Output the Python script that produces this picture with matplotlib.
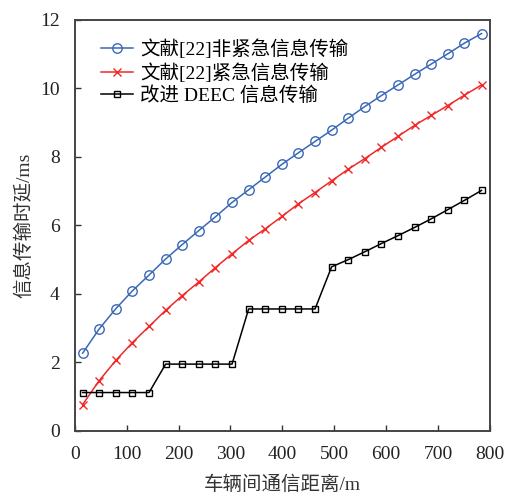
import matplotlib
matplotlib.use("Agg")
import matplotlib.pyplot as plt

plt.rcParams['font.family'] = ['Liberation Serif', 'Noto Sans CJK SC']
plt.rcParams['font.size'] = 14

# distance between vehicles (m)
distance = [15, 47, 79, 111, 143, 175, 207, 239, 271, 303, 335, 367, 399,
            431, 463, 495, 527, 559, 591, 623, 655, 687, 719, 751, 784]

# delay (ms)
non_urgent = [2.27, 2.98, 3.57, 4.09, 4.55, 5.02, 5.44, 5.85, 6.25, 6.67,
              7.04, 7.41, 7.78, 8.12, 8.45, 8.78, 9.13, 9.47, 9.79, 10.10,
              10.41, 10.71, 11.01, 11.32, 11.60]
urgent = [0.77, 1.47, 2.06, 2.58, 3.05, 3.52, 3.95, 4.35, 4.77, 5.17,
          5.56, 5.90, 6.26, 6.63, 6.96, 7.30, 7.64, 7.95, 8.28, 8.60,
          8.92, 9.21, 9.50, 9.80, 10.10]
deec = [1.12, 1.12, 1.12, 1.12, 1.12, 1.95, 1.95, 1.95, 1.95, 1.95,
        3.56, 3.56, 3.56, 3.56, 3.56, 4.79, 5.00, 5.23, 5.47, 5.70,
        5.94, 6.19, 6.46, 6.73, 7.02]

labels = ['文献[22]非紧急信息传输', '文献[22]紧急信息传输', '改进 DEEC 信息传输']

fig = plt.figure(figsize=(5.06, 4.97), dpi=100)
ax = fig.add_axes([0.148, 0.133, 0.82, 0.827])

ax.plot(distance, non_urgent, color='#3a68b8', lw=1.1, marker='o', ms=6.8,
        mfc='none', mew=1.0, label=labels[0])
ax.plot(distance, urgent, color='#f02828', lw=1.1, marker='x', ms=5.5,
        mew=1.0, label=labels[1])
ax.plot(distance, deec, color='black', lw=1.1, marker='s', ms=5,
        mfc='none', mew=1.0, label=labels[2])

ax.set_xlim(0, 800)
ax.set_ylim(0, 12)
ax.set_xticks(range(0, 801, 100))
ax.set_yticks(range(0, 13, 2))
ax.tick_params(direction='in', length=4, width=1, colors='#333333',
               labelcolor='#222222', labelsize=14)
ax.tick_params(axis='x', pad=11)
ax.tick_params(axis='y', pad=11)
for s in ax.spines.values():
    s.set_linewidth(1.4)
    s.set_color('#444444')

ax.set_xlabel('车辆间通信距离/m', fontsize=14, color='#333333', labelpad=9)
ax.set_ylabel('信息传输时延/ms', fontsize=14, color='#333333', labelpad=5)

ax.legend(loc='upper left', frameon=False, fontsize=14, handlelength=1.65,
          handletextpad=0.35, labelspacing=0.2, borderaxespad=0.3,
          bbox_to_anchor=(0.03, 0.985))

fig.savefig('out.png', dpi=100)
